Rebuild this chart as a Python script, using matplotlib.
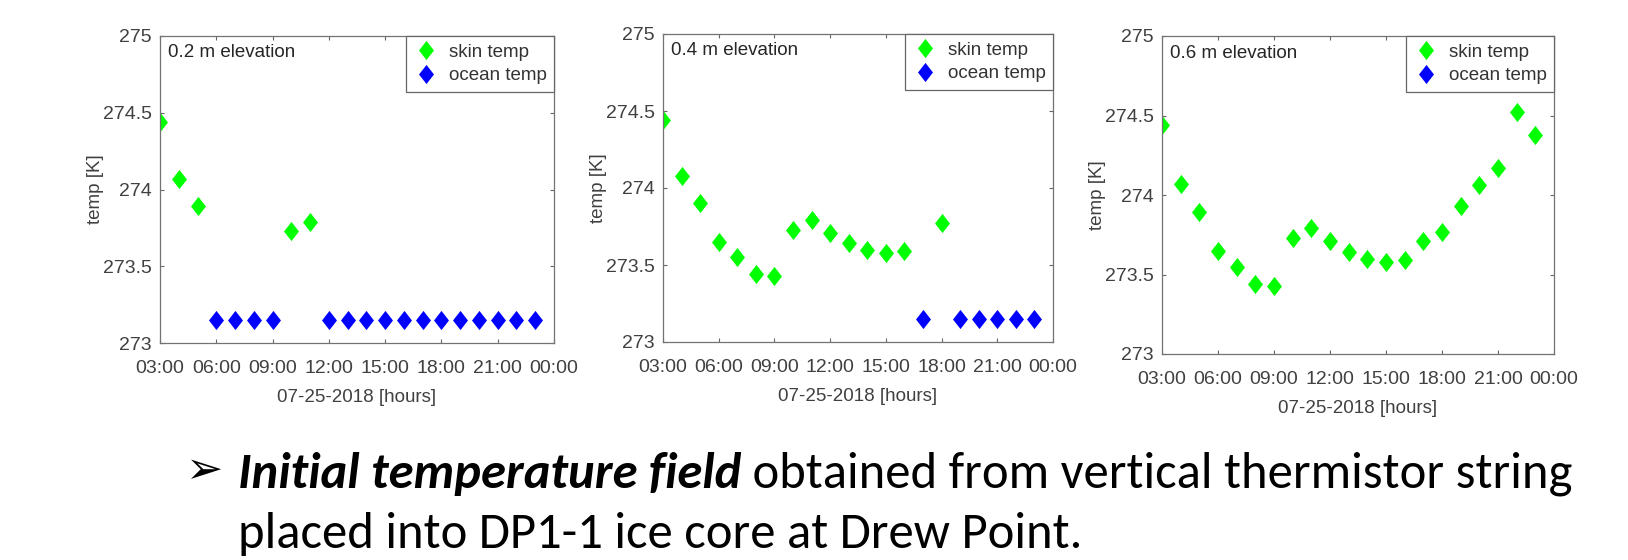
import numpy as np
import matplotlib
matplotlib.use('Agg')
import matplotlib.pyplot as plt
from matplotlib.path import Path

# values (hours of 07-25-2018, temp in K)
skin_02_hours = [3, 4, 5, 10, 11]
skin_02 = [274.44, 274.07, 273.89, 273.73, 273.79]
ocean_02_hours = [6, 7, 8, 9, 12, 13, 14, 15, 16, 17, 18, 19, 20, 21, 22, 23]
ocean_02 = [273.15, 273.15, 273.15, 273.15, 273.15, 273.15, 273.15, 273.15,
            273.15, 273.15, 273.15, 273.15, 273.15, 273.15, 273.15, 273.15]

skin_04_hours = [3, 4, 5, 6, 7, 8, 9, 10, 11, 12, 13, 14, 15, 16, 18]
skin_04 = [274.44, 274.08, 273.90, 273.65, 273.55, 273.44, 273.43, 273.73,
           273.79, 273.71, 273.64, 273.60, 273.58, 273.59, 273.77]
ocean_04_hours = [17, 19, 20, 21, 22, 23]
ocean_04 = [273.15, 273.15, 273.15, 273.15, 273.15, 273.15]

skin_06_hours = [3, 4, 5, 6, 7, 8, 9, 10, 11, 12, 13, 14, 15, 16, 17, 18,
                 19, 20, 21, 22, 23]
skin_06 = [274.44, 274.07, 273.89, 273.65, 273.55, 273.44, 273.43, 273.73,
           273.79, 273.71, 273.64, 273.60, 273.58, 273.59, 273.71, 273.77,
           273.93, 274.06, 274.17, 274.52, 274.38]
ocean_06_hours = []
ocean_06 = []

elevations = ['0.2 m elevation', '0.4 m elevation', '0.6 m elevation']
xtick_hours = [3, 6, 9, 12, 15, 18, 21, 24]
xtick_labels = ['03:00', '06:00', '09:00', '12:00', '15:00', '18:00', '21:00', '00:00']
ytick_vals = [273, 273.5, 274, 274.5, 275]
ytick_labels = ['273', '273.5', '274', '274.5', '275']

W, H = 1628, 560
plt.rcParams['font.family'] = ['Liberation Sans', 'DejaVu Sans']

diamond = Path([(0, 1), (0.78, 0), (0, -1), (-0.78, 0), (0, 1)],
               [Path.MOVETO, Path.LINETO, Path.LINETO, Path.LINETO, Path.CLOSEPOLY])

fig = plt.figure(figsize=(W / 100, H / 100), dpi=100)

# axes boxes in pixels: left, right, top, bottom
boxes = [(160, 554, 36, 343), (663, 1053, 34, 342), (1162, 1554, 36, 354)]
panels = [(skin_02_hours, skin_02, ocean_02_hours, ocean_02),
          (skin_04_hours, skin_04, ocean_04_hours, ocean_04),
          (skin_06_hours, skin_06, ocean_06_hours, ocean_06)]

for box, data, elev in zip(boxes, panels, elevations):
    l, r, t, b = box
    ax = fig.add_axes([l / W, 1 - b / H, (r - l) / W, (b - t) / H])
    sh, sv, oh, ov = data
    ax.plot(sh, sv, linestyle='none', marker=diamond, markersize=13.8,
            color=(0, 1, 0), markeredgewidth=0, label='skin temp')
    ax.plot(oh, ov, linestyle='none', marker=diamond, markersize=13.8,
            color=(0, 0, 1), markeredgewidth=0, label='ocean temp')
    ax.set_xlim(3, 24)
    ax.set_ylim(273, 275)
    ax.set_xticks(xtick_hours)
    ax.set_xticklabels(xtick_labels)
    ax.set_yticks(ytick_vals)
    ax.set_yticklabels(ytick_labels)
    ax.tick_params(direction='in', top=True, right=True, length=3, width=0.8,
                   color='0.4', labelcolor='0.25', labelsize=14)
    ax.tick_params(axis='x', pad=12)
    ax.tick_params(axis='y', pad=6)
    for sp in ax.spines.values():
        sp.set_color('0.45')
        sp.set_linewidth(0.9)
    ax.set_xlabel('07-25-2018 [hours]', fontsize=13.5, color='0.25', labelpad=9)
    ax.set_ylabel('temp [K]', fontsize=13.5, color='0.25', labelpad=-1)
    ax.text(0.02, 0.945, elev, transform=ax.transAxes, fontsize=13.5,
            color='0.15', va='center', ha='left')
    leg = ax.legend(loc='upper right', borderaxespad=0, fontsize=13.5,
                    fancybox=False, framealpha=1, edgecolor='0.4',
                    handletextpad=0.5, borderpad=0.4, labelspacing=0.35,
                    handlelength=1.4)
    for txt in leg.get_texts():
        txt.set_color('0.2')
    leg.get_frame().set_linewidth(0.9)

# bullet text below the charts
fig.text(185 / W, 1 - 471 / H, '\u27a2', fontsize=32, family='DejaVu Sans',
         va='center', ha='left', color='black')
body = ['Carlito', 'Open Sans', 'DejaVu Sans']
t1 = fig.text(238 / W, 1 - 488 / H, 'Initial temperature field', fontsize=30,
              family=body, weight='bold', style='italic',
              va='baseline', ha='left')
t2 = fig.text(0, 1 - 488 / H, ' obtained from vertical thermistor string',
              fontsize=30, family=body, va='baseline', ha='left')
t3 = fig.text(238 / W, 1 - 548 / H, 'placed into DP1-1 ice core at Drew Point.',
              fontsize=30, family=body, va='baseline', ha='left')

fig.canvas.draw()
rend = fig.canvas.get_renderer()
w1 = t1.get_window_extent(rend).width
w2 = t2.get_window_extent(rend).width
scale = (1568 - 238) / (w1 + w2)
for t in (t1, t2, t3):
    t.set_fontsize(30 * scale)
fig.canvas.draw()
bb = t1.get_window_extent(rend)
t2.set_x(bb.x1 / W)

fig.savefig('out.png', dpi=100)
